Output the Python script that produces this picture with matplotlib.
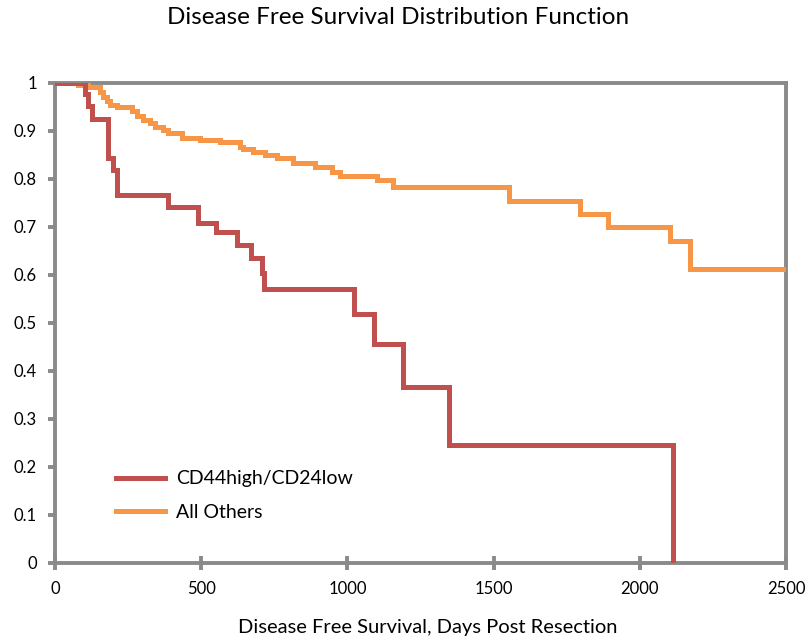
import matplotlib
matplotlib.use("Agg")
import matplotlib.pyplot as plt

# ---- data ----
red_days = [0, 103, 113, 127, 181, 198, 212, 386, 489, 550, 624, 670, 708, 715,
            1022, 1091, 1190, 1347, 2113]
red_surv = [1.0, 0.976, 0.951, 0.924, 0.843, 0.818, 0.766, 0.740, 0.708, 0.688,
            0.661, 0.634, 0.603, 0.570, 0.518, 0.456, 0.365, 0.244, 0.0]

orange_days = [0, 79, 113, 154, 164, 178, 188, 212, 263, 280, 301, 325, 342, 369,
               386, 434, 496, 564, 633, 643, 677, 718, 759, 814, 889, 947, 975,
               1101, 1156, 1553, 1795, 1891, 2103, 2172, 2500]
orange_surv = [1.0, 0.995, 0.990, 0.981, 0.970, 0.961, 0.953, 0.948, 0.941, 0.930,
               0.922, 0.916, 0.907, 0.901, 0.894, 0.885, 0.880, 0.877, 0.866, 0.861,
               0.856, 0.849, 0.842, 0.832, 0.823, 0.814, 0.805, 0.797, 0.782, 0.753,
               0.726, 0.699, 0.670, 0.611, 0.611]

series_labels = ["CD44high/CD24low", "All Others"]
x_ticks = [0, 500, 1000, 1500, 2000, 2500]
y_ticks = [0, 0.1, 0.2, 0.3, 0.4, 0.5, 0.6, 0.7, 0.8, 0.9, 1]
y_tick_labels = ["0", "0.1", "0.2", "0.3", "0.4", "0.5", "0.6", "0.7", "0.8", "0.9", "1"]

title = "Disease Free Survival Distribution Function"
xlabel = "Disease Free Survival, Days Post Resection"

# ---- style ----
plt.rcParams['font.family'] = ['Lato', 'DejaVu Sans']
RED = "#C0504D"
ORANGE = "#F79646"
GRAY = "#8A8A8A"

W, H = 809, 643
fig = plt.figure(figsize=(W / 100, H / 100), dpi=100)
ax = fig.add_axes([55 / W, (H - 562.5) / H, (786 - 55) / W, (562.5 - 82.5) / H])

ax.plot(red_days, red_surv, drawstyle="steps-post", color=RED, lw=3.6,
        label=series_labels[0], solid_joinstyle="miter", zorder=3)
ax.plot(orange_days, orange_surv, drawstyle="steps-post", color=ORANGE, lw=3.6,
        label=series_labels[1], solid_joinstyle="miter", zorder=2)

ax.set_xlim(0, 2500)
ax.set_ylim(0, 1)
ax.set_xticks(x_ticks)
ax.set_xticklabels([str(t) for t in x_ticks])
ax.set_yticks(y_ticks)
ax.set_yticklabels(y_tick_labels)

for s in ax.spines.values():
    s.set_color(GRAY)
    s.set_linewidth(2.8)
    s.set_zorder(1)

ax.tick_params(axis="x", direction="inout", length=10, width=2.8, color=GRAY,
               labelsize=12, pad=8, labelcolor="black")
ax.tick_params(axis="y", direction="out", length=5, width=2.8, color=GRAY,
               labelsize=12, pad=8, labelcolor="black")

leg = ax.legend(loc="lower left", bbox_to_anchor=(0.06, 0.05), frameon=False,
                fontsize=14, handlelength=2.5, handletextpad=0.55, labelspacing=0.85)

fig.text(398 / W, 1 - 18 / H, title, ha="center", va="center", fontsize=17.5)
fig.text(428 / W, 1 - 627 / H, xlabel, ha="center", va="center", fontsize=14.5)

fig.savefig("out.png", dpi=100)
